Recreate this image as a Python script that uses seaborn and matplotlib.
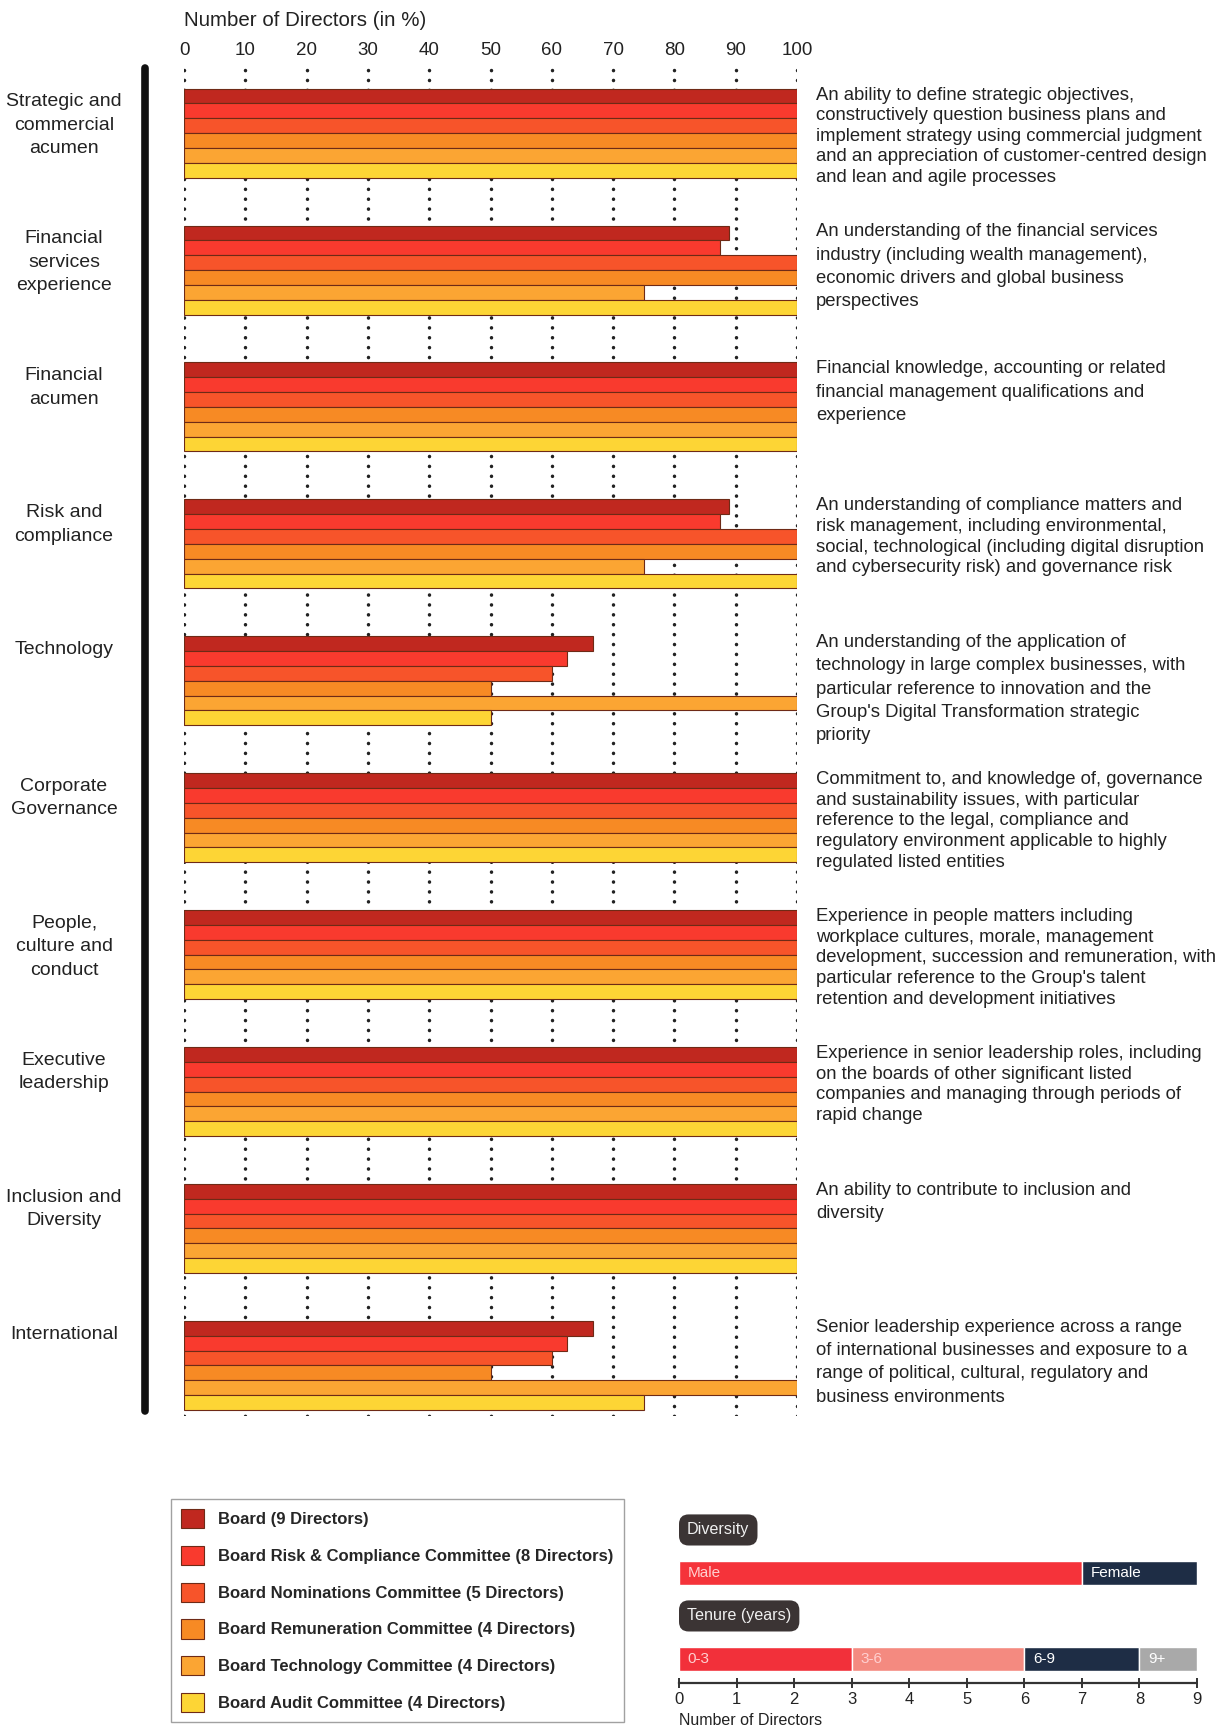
import numpy as np
import pandas as pd
import seaborn as sns
import matplotlib.pyplot as plt
from matplotlib.lines import Line2D
from matplotlib.transforms import blended_transform_factory

# skills (top to bottom)
skills = ["Strategic and\ncommercial\nacumen", "Financial\nservices\nexperience", "Financial\nacumen",
          "Risk and\ncompliance", "Technology", "Corporate\nGovernance", "People,\nculture and\nconduct",
          "Executive\nleadership", "Inclusion and\nDiversity", "International"]

committees = ["Board (9 Directors)", "Board Risk & Compliance Committee (8 Directors)",
              "Board Nominations Committee (5 Directors)", "Board Remuneration Committee (4 Directors)",
              "Board Technology Committee (4 Directors)", "Board Audit Committee (4 Directors)"]
colors = ["#c0281f", "#f93a2e", "#f7542a", "#f78a24", "#fba533", "#fdd535"]

# % of directors per skill, one list per committee
board = [100, 88.9, 100, 88.9, 66.7, 100, 100, 100, 100, 66.7]
risk_comp = [100, 87.5, 100, 87.5, 62.5, 100, 100, 100, 100, 62.5]
nominations = [100, 100, 100, 100, 60, 100, 100, 100, 100, 60]
remuneration = [100, 100, 100, 100, 50, 100, 100, 100, 100, 50]
technology = [100, 75, 100, 75, 100, 100, 100, 100, 100, 100]
audit = [100, 100, 100, 100, 50, 100, 100, 100, 100, 75]

descriptions = [
    "An ability to define strategic objectives,\nconstructively question business plans and\nimplement strategy using commercial judgment\nand an appreciation of customer-centred design\nand lean and agile processes",
    "An understanding of the financial services\nindustry (including wealth management),\neconomic drivers and global business\nperspectives",
    "Financial knowledge, accounting or related\nfinancial management qualifications and\nexperience",
    "An understanding of compliance matters and\nrisk management, including environmental,\nsocial, technological (including digital disruption\nand cybersecurity risk) and governance risk",
    "An understanding of the application of\ntechnology in large complex businesses, with\nparticular reference to innovation and the\nGroup's Digital Transformation strategic\npriority",
    "Commitment to, and knowledge of, governance\nand sustainability issues, with particular\nreference to the legal, compliance and\nregulatory environment applicable to highly\nregulated listed entities",
    "Experience in people matters including\nworkplace cultures, morale, management\ndevelopment, succession and remuneration, with\nparticular reference to the Group's talent\nretention and development initiatives",
    "Experience in senior leadership roles, including\non the boards of other significant listed\ncompanies and managing through periods of\nrapid change",
    "An ability to contribute to inclusion and\ndiversity",
    "Senior leadership experience across a range\nof international businesses and exposure to a\nrange of political, cultural, regulatory and\nbusiness environments",
]
desc_spacing = [1.28, 1.48, 1.48, 1.28, 1.48, 1.28, 1.28, 1.28, 1.48, 1.48]

# diversity / tenure panel
gender = ["Male", "Female"]
gender_n = [7, 2]
gender_col = ["#f5333a", "#1e2d45"]
tenure = ["0-3", "3-6", "6-9", "9+"]
tenure_n = [3, 3, 2, 1]
tenure_col = ["#f2303a", "#f48a80", "#1e2d45", "#a9a9a9"]

rows = []
for c, vals in zip(committees, [board, risk_comp, nominations, remuneration, technology, audit]):
    for s, v in zip(skills, vals):
        rows.append({"skill": s, "pct": v, "committee": c})
df = pd.DataFrame(rows)

sns.set_theme(style="white")
plt.rcParams["font.family"] = ["Liberation Sans", "DejaVu Sans"]
plt.rcParams["lines.dash_capstyle"] = "round"

fig = plt.figure(figsize=(12.28, 17.29), dpi=100)
fig.patch.set_facecolor("white")
W, H = 1228, 1729

ax = fig.add_axes([184 / W, 1 - 1416 / H, 613 / W, 1350 / H])
sns.barplot(data=df, y="skill", x="pct", hue="committee", order=skills, hue_order=committees,
            palette=colors, saturation=1, width=0.65, orient="h", edgecolor="#6e2a16",
            linewidth=0.8, ax=ax, zorder=3)
handles, labels = ax.get_legend_handles_labels()
ax.get_legend().remove()

ax.set_xlim(0, 100)
ax.set_ylim(9.37, -0.49)
ax.set_xticks(np.arange(0, 101, 10))
ax.xaxis.tick_top()
ax.tick_params(axis="x", length=0, pad=5, labelsize=13.5, labelcolor="#222222")
ax.set_yticks([])
ax.set_xlabel("")
ax.set_ylabel("")
for sp in ax.spines.values():
    sp.set_visible(False)
ax.grid(axis="x", color="#222222", linestyle=(0, (0.05, 2.8)), linewidth=2.5, zorder=0)
ax.set_axisbelow(True)

fig.text(184 / W, 1 - 21 / H, "Number of Directors (in %)", fontsize=14.8, color="#222222",
         va="center", ha="left")

# thick vertical rule on the left
fig.add_artist(Line2D([145 / W, 145 / W], [1 - 68 / H, 1 - 1411 / H], color="#111111", lw=5.5,
                      solid_capstyle="round", transform=fig.transFigure))

tr_left = blended_transform_factory(fig.transFigure, ax.transData)
for i, (s, d) in enumerate(zip(skills, descriptions)):
    ax.text(64 / W, i - 0.29, s, transform=tr_left, ha="center", va="top", fontsize=14,
            color="#222222", linespacing=1.49)
    ax.text(816 / W, i - 0.34, d, transform=tr_left, ha="left", va="top", fontsize=13.3,
            color="#222222", linespacing=desc_spacing[i])

fig.legend(handles, labels, loc="upper left", bbox_to_anchor=(171 / W, 1 - 1499 / H),
           prop={"weight": "semibold", "size": 12}, frameon=True, fancybox=False,
           edgecolor="#8a8a8a", handlelength=1.4, handleheight=1.4, labelspacing=1.05,
           handletextpad=0.85, borderpad=0.6, borderaxespad=0)

# diversity and tenure panel
ax2 = fig.add_axes([679 / W, 1 - 1683 / H, 518 / W, 168 / H])
left = 0
for g, n, c in zip(gender, gender_n, gender_col):
    ax2.barh(0, n, left=left, height=0.28, color=c)
    ax2.text(left + 0.15, 0, g, color="white" if g == "Female" else "#ffd0d0", fontsize=11,
             va="center", ha="left")
    left += n
left = 0
for t, n, c in zip(tenure, tenure_n, tenure_col):
    ax2.barh(1, n, left=left, height=0.28, color=c)
    ax2.text(left + 0.15, 1, t, color="#ffd0d0" if t in ("0-3", "3-6") else "white", fontsize=11,
             va="center", ha="left")
    left += n
for y, lab in [(0, "Diversity"), (1, "Tenure (years)")]:
    ax2.text(0.14, y - 0.5, lab, fontsize=11.6, color="#f0f0f0", va="center", ha="left",
             bbox=dict(boxstyle="round,pad=0.5,rounding_size=0.6", fc="#3b3434", ec="none"))
ax2.set_xlim(0, 9)
ax2.set_ylim(1.28, -0.674)
ax2.set_yticks([])
ax2.set_xticks(range(10))
for sp in ["top", "left", "right"]:
    ax2.spines[sp].set_visible(False)
ax2.spines["bottom"].set_color("#333333")
ax2.spines["bottom"].set_linestyle((0, (1, 1)))
ax2.spines["bottom"].set_linewidth(1.6)
ax2.tick_params(axis="x", direction="inout", length=7, width=1.4, color="#333333",
                labelsize=12, labelcolor="#222222", pad=3, bottom=True)
ax2.set_xlabel("Number of Directors", fontsize=11.5, loc="left", labelpad=4, color="#222222")

fig.savefig("out.png", dpi=100, facecolor="white")
